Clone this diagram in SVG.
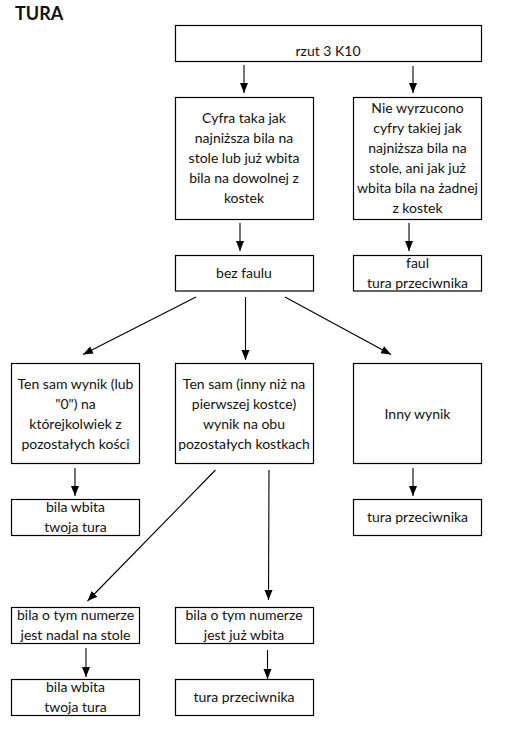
<svg xmlns="http://www.w3.org/2000/svg" width="510" height="737" viewBox="0 0 510 737">
<style>
.box{fill:#fff;stroke:#000;stroke-width:1.2}
.t{font-family:Lato,"Open Sans","Liberation Sans",sans-serif;font-size:14px;fill:#111;text-anchor:middle}
.title{font-family:Lato,"Open Sans","Liberation Sans",sans-serif;font-size:18px;font-weight:bold;fill:#111}
.c{stroke:#000;stroke-width:1.1;fill:none;marker-end:url(#ah)}
</style>
<defs>
<marker id="ah" markerWidth="10" markerHeight="10" viewBox="0 0 10 10" refX="10" refY="5" orient="auto" markerUnits="userSpaceOnUse">
<path d="M0,1 L10,5 L0,9 Z" fill="#000"/>
</marker>
</defs>
<rect width="510" height="737" fill="#fff"/>
<text class="title" x="15" y="19.5">TURA</text>

<g id="connectors">
<line class="c" x1="244" y1="65" x2="244" y2="93"/>
<line class="c" x1="413" y1="66" x2="413" y2="93"/>
<line class="c" x1="240" y1="223" x2="240" y2="251"/>
<line class="c" x1="409" y1="223" x2="409" y2="251"/>
<line class="c" x1="196" y1="297" x2="83" y2="354.5"/>
<line class="c" x1="245.5" y1="297" x2="245.5" y2="360"/>
<line class="c" x1="285" y1="297" x2="391" y2="354.5"/>
<line class="c" x1="75" y1="468" x2="75" y2="496"/>
<line class="c" x1="413" y1="468" x2="413" y2="496"/>
<line class="c" x1="215.5" y1="470" x2="87.5" y2="601"/>
<line class="c" x1="269" y1="470" x2="268.5" y2="600"/>
<line class="c" x1="86" y1="648" x2="86" y2="677"/>
<line class="c" x1="267.5" y1="650" x2="267.5" y2="679"/>
</g>

<g id="n-rzut">
<rect class="box" x="175.5" y="25.5" width="306" height="36"/>
<text class="t" x="328" y="56">rzut 3 K10</text>
</g>
<g id="n-cyfra">
<rect class="box" x="175.5" y="97.5" width="138" height="122"/>
<text class="t" x="244" y="123.3">Cyfra taka jak</text>
<text class="t" x="244" y="143.3">najniższa bila na</text>
<text class="t" x="244" y="163.3">stole lub już wbita</text>
<text class="t" x="244" y="183.3">bila na dowolnej z</text>
<text class="t" x="244" y="203.3">kostek</text>
</g>
<g id="n-nie">
<rect class="box" x="353.5" y="97.5" width="128" height="122"/>
<text class="t" x="417.5" y="113.3">Nie wyrzucono</text>
<text class="t" x="417.5" y="133.3">cyfry takiej jak</text>
<text class="t" x="417.5" y="153.3">najniższa bila na</text>
<text class="t" x="417.5" y="173.3">stole, ani jak już</text>
<text class="t" x="417.5" y="193.3">wbita bila na żadnej</text>
<text class="t" x="417.5" y="213.3">z kostek</text>
</g>
<g id="n-bezfaulu">
<rect class="box" x="175.5" y="255.5" width="138" height="35.5"/>
<text class="t" x="244" y="278.3">bez faulu</text>
</g>
<g id="n-faul">
<rect class="box" x="353.5" y="255.5" width="128" height="35.5"/>
<text class="t" x="417.5" y="268.3">faul</text>
<text class="t" x="417.5" y="288.3">tura przeciwnika</text>
</g>
<g id="n-tensam1">
<rect class="box" x="11.5" y="363.5" width="128" height="100"/>
<text class="t" x="75.5" y="389">Ten sam wynik (lub</text>
<text class="t" x="75.5" y="409">"0") na</text>
<text class="t" x="75.5" y="429">którejkolwiek z</text>
<text class="t" x="75.5" y="449">pozostałych kości</text>
</g>
<g id="n-tensam2">
<rect class="box" x="175.5" y="363.5" width="138" height="100"/>
<text class="t" x="244" y="389">Ten sam (inny niż na</text>
<text class="t" x="244" y="409">pierwszej kostce)</text>
<text class="t" x="244" y="429">wynik na obu</text>
<text class="t" x="244" y="449">pozostałych kostkach</text>
</g>
<g id="n-inny">
<rect class="box" x="353.5" y="363.5" width="128" height="100"/>
<text class="t" x="417.5" y="419">Inny wynik</text>
</g>
<g id="n-wbita1">
<rect class="box" x="11.5" y="499.5" width="128" height="36"/>
<text class="t" x="75.5" y="512.3">bila wbita</text>
<text class="t" x="75.5" y="532.3">twoja tura</text>
</g>
<g id="n-tura1">
<rect class="box" x="353.5" y="499.5" width="128" height="36"/>
<text class="t" x="417.5" y="522.3">tura przeciwnika</text>
</g>
<g id="n-nadal">
<rect class="box" x="11.5" y="607.5" width="128" height="36"/>
<text class="t" x="75.5" y="620">bila o tym numerze</text>
<text class="t" x="75.5" y="640">jest nadal na stole</text>
</g>
<g id="n-juz">
<rect class="box" x="175.5" y="607.5" width="138" height="36"/>
<text class="t" x="244" y="620">bila o tym numerze</text>
<text class="t" x="244" y="640">jest już wbita</text>
</g>
<g id="n-wbita2">
<rect class="box" x="11.5" y="679.5" width="128" height="36"/>
<text class="t" x="75.5" y="692.3">bila wbita</text>
<text class="t" x="75.5" y="711.7">twoja tura</text>
</g>
<g id="n-tura2">
<rect class="box" x="175.5" y="679.5" width="138" height="36"/>
<text class="t" x="244" y="702.3">tura przeciwnika</text>
</g>
</svg>
